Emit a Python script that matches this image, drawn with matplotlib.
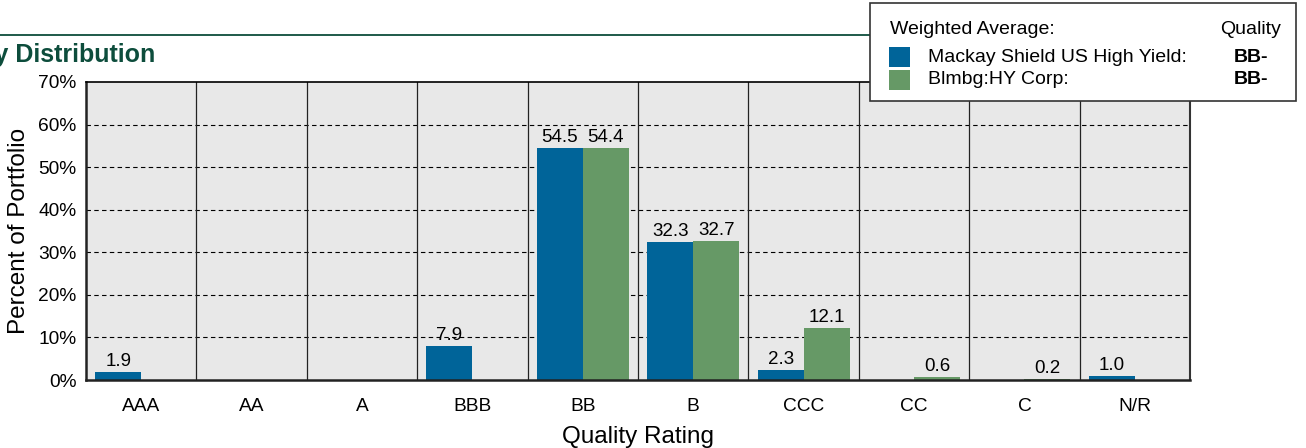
import numpy as np
import matplotlib
matplotlib.use("Agg")
import matplotlib.pyplot as plt
from matplotlib.patches import Rectangle
from matplotlib.lines import Line2D

# Data
ratings = ['AAA', 'AA', 'A', 'BBB', 'BB', 'B', 'CCC', 'CC', 'C', 'N/R']
fund = [1.9, 0, 0, 7.9, 54.5, 32.3, 2.3, 0, 0, 1.0]
bench = [0, 0, 0, 0, 54.4, 32.7, 12.1, 0.6, 0.2, 0]
fund_name = 'Mackay Shield US High Yield:'
bench_name = 'Blmbg:HY Corp:'
fund_quality = 'BB-'
bench_quality = 'BB-'

BLUE = '#006499'
GREEN = '#669966'
DKGREEN = '#0d4d3c'

plt.rcParams['font.family'] = ['Liberation Sans', 'DejaVu Sans']

W, H = 1306, 448
fig = plt.figure(figsize=(W / 100, H / 100), dpi=100)
ax = fig.add_axes([86 / W, 1 - 380 / H, (1190 - 86) / W, (380 - 82) / H])
ax.set_facecolor('#e8e8e8')

x = np.arange(len(ratings))
bw = 0.417
left = x - 0.5 + 0.083
b1 = ax.bar(left, fund, bw, align='edge', color=BLUE, zorder=3)
b2 = ax.bar(left + bw, bench, bw, align='edge', color=GREEN, zorder=3)

for bars, vals in ((b1, fund), (b2, bench)):
    for bar, v in zip(bars, vals):
        if v > 0:
            ax.text(bar.get_x() + bar.get_width() / 2, v + 0.5, f'{v:.1f}',
                    ha='center', va='bottom', fontsize=13.5, zorder=4)

ax.set_xlim(-0.5, len(ratings) - 0.5)
ax.set_ylim(0, 70)
ax.set_yticks(np.arange(0, 71, 10))
ax.set_yticklabels([f'{v}%' for v in range(0, 71, 10)], fontsize=13.8)
ax.set_xticks(x)
ax.set_xticklabels(ratings, fontsize=13.8)
ax.tick_params(axis='both', length=0)
ax.tick_params(axis='x', pad=13)
ax.tick_params(axis='y', pad=7)

# grid: dashed horizontals, solid category separators
for yv in range(10, 70, 10):
    ax.axhline(yv, color='black', ls=(0, (4, 3)), lw=0.8, zorder=1)
for xv in x[:-1] + 0.5:
    ax.axvline(xv, color='#222222', lw=0.9, zorder=1)

for side in ('left', 'bottom'):
    ax.spines[side].set_linewidth(1.8)
    ax.spines[side].set_color('#222222')
ax.spines['top'].set_linewidth(1.2)
ax.spines['right'].set_linewidth(1.5)
ax.spines['right'].set_color('#333333')
for sp in ax.spines.values():
    sp.set_zorder(5)

ax.set_xlabel('Quality Rating', fontsize=17.5, labelpad=8)
ax.set_ylabel('Percent of Portfolio', fontsize=17.5, labelpad=6)

# header rule and title (clipped at the left edge, as in the source page)
fig.add_artist(Line2D([0, 870 / W], [1 - 35 / H] * 2, color=DKGREEN, lw=1.3))
fig.text(155 / W, 1 - 55 / H, 'Quality Distribution', ha='right', va='center',
         fontsize=18, fontweight='bold', color=DKGREEN)

# legend box
fig.add_artist(Rectangle((870 / W, 1 - 101 / H), (1296 - 870) / W, 98 / H,
                         transform=fig.transFigure, facecolor='white',
                         edgecolor='#333333', lw=1.2, zorder=10))
fig.text(890 / W, 1 - 29 / H, 'Weighted Average:', fontsize=14, va='center', zorder=11)
fig.text(1281 / W, 1 - 29 / H, 'Quality', fontsize=14, va='center', ha='right', zorder=11)
rows = [(BLUE, fund_name, fund_quality, 57), (GREEN, bench_name, bench_quality, 80)]
for col, name, q, yc in rows:
    fig.add_artist(Rectangle((889 / W, 1 - (yc + 10) / H), 21 / W, 20 / H,
                             transform=fig.transFigure, facecolor=col,
                             edgecolor='none', zorder=11))
    fig.text(928 / W, 1 - yc / H, name, fontsize=14, va='center', zorder=11)
    fig.text(1268 / W, 1 - yc / H, q, fontsize=14, va='center', ha='right',
             fontweight='bold', zorder=11)

fig.savefig('out.png', dpi=100)
